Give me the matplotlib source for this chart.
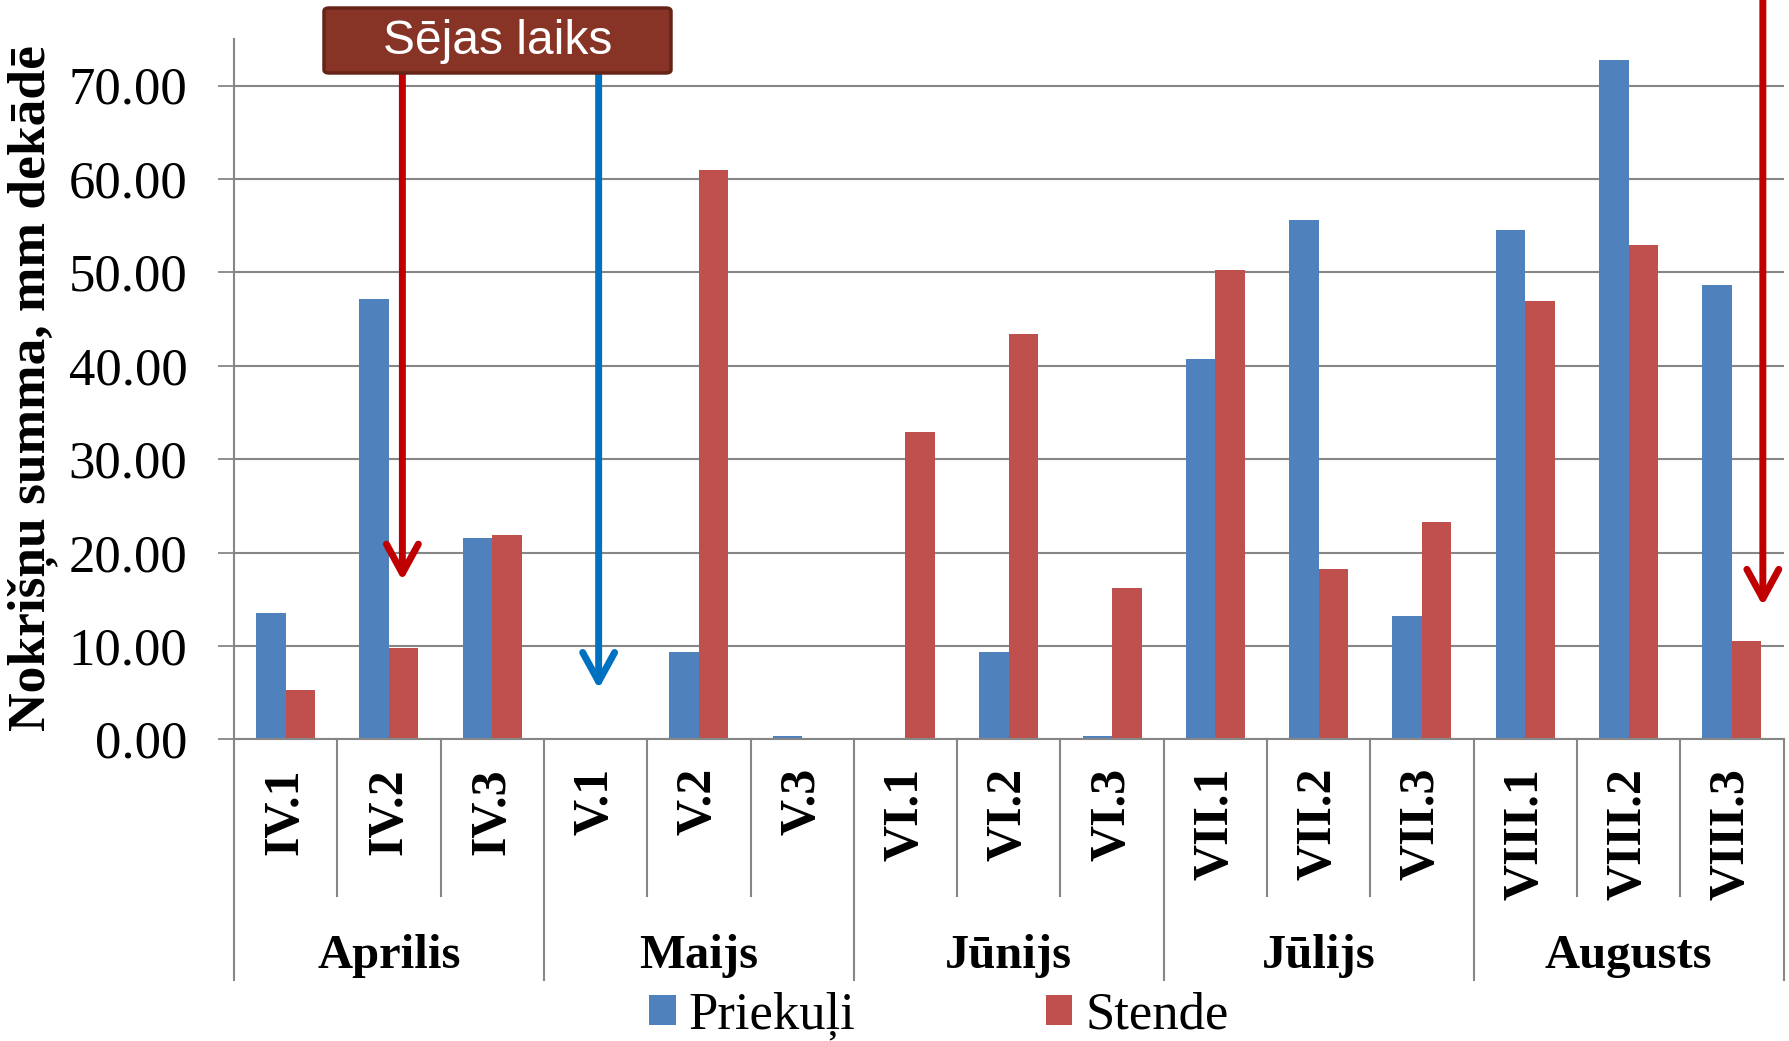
import numpy as np
import matplotlib
matplotlib.use("Agg")
import matplotlib.pyplot as plt
from matplotlib.patches import FancyArrowPatch, FancyBboxPatch, ArrowStyle
from matplotlib.transforms import blended_transform_factory

# data
decades = ["IV.1", "IV.2", "IV.3", "V.1", "V.2", "V.3", "VI.1", "VI.2", "VI.3",
           "VII.1", "VII.2", "VII.3", "VIII.1", "VIII.2", "VIII.3"]
months = ["Aprilis", "Maijs", "Jūnijs", "Jūlijs", "Augusts"]
priekuli = [13.5, 47.1, 21.6, 0.0, 9.3, 0.4, 0.0, 9.3, 0.4,
            40.7, 55.6, 13.2, 54.5, 72.7, 48.6]
stende = [5.3, 9.8, 21.9, 0.0, 61.0, 0.0, 32.9, 43.4, 16.2,
          50.2, 18.2, 23.3, 46.9, 52.9, 10.5]
# sowing time arrows: (x position in decade units, tip value, colour)
sowing_arrows = [(1.13, 17.0, "#C00000"), (3.03, 5.4, "#0070C0"), (14.30, 14.3, "#C00000")]

W, H = 1789, 1041
SERIF = ["Liberation Serif", "DejaVu Serif"]
SANS = ["Liberation Sans", "DejaVu Sans"]
GRAY = "#868686"
BLUE = "#4F81BD"
RED = "#C0504D"

fig = plt.figure(figsize=(W / 100, H / 100), dpi=100)
ax = fig.add_axes([234 / W, 1 - 739.3 / H, 1549.5 / W, 700.5 / H])

x = np.arange(len(decades))
w = 0.2857
b1 = ax.bar(x - w / 2, priekuli, w, color=BLUE, zorder=2)
b2 = ax.bar(x + w / 2, stende, w, color=RED, zorder=2)

ax.set_xlim(-0.5, len(decades) - 0.5)
ax.set_ylim(0, 75)
ax.set_yticks(np.arange(0, 80, 10))
ax.set_yticklabels([f"{v:.2f}" for v in np.arange(0, 80, 10)], family=SERIF, fontsize=38)
ax.set_xticks([])
ax.tick_params(axis="y", length=11.5, width=1.3, color=GRAY, pad=22)
ax.yaxis.grid(True, color=GRAY, lw=1.5)
ax.set_axisbelow(True)
for s in ["top", "right"]:
    ax.spines[s].set_visible(False)
for s in ["left", "bottom"]:
    ax.spines[s].set_color(GRAY)
    ax.spines[s].set_linewidth(1.5)

# multi-level category axis
tr = blended_transform_factory(ax.transData, fig.transFigure)
y_axis = 1 - 739.3 / H
for i in range(len(decades) + 1):
    y_end = 1 - (980 if i % 3 == 0 else 896) / H
    ax.plot([i - 0.5, i - 0.5], [y_axis, y_end], color=GRAY, lw=1.5,
            transform=tr, clip_on=False)
for i, lab in enumerate(decades):
    ax.text(i, 1 - 768 / H, lab, rotation=90, ha="center", va="top",
            family=SERIF, fontsize=36, fontweight="bold", transform=tr)
for j, m in enumerate(months):
    ax.text(3 * j + 1, 1 - 968 / H, m, ha="center", va="baseline",
            family=SERIF, fontsize=35, fontweight="bold", transform=tr)

fig.text(33 / W, 1 - 388 / H, "Nokrišņu summa, mm dekādē", rotation=90,
         ha="center", va="center", family=SERIF, fontsize=38.5, fontweight="bold")

# arrows for sowing time
for xa, tip, col in sowing_arrows:
    start = 80 if xa > 10 else 72
    arr = FancyArrowPatch((xa, start), (xa, tip),
                          arrowstyle=ArrowStyle("->", head_length=21, head_width=11.5),
                          mutation_scale=1, color=col, lw=5, clip_on=False,
                          zorder=4, shrinkA=0, shrinkB=0)
    ax.add_patch(arr)

box = FancyBboxPatch((324 / W, 1 - 73 / H), 347 / W, 65 / H,
                     boxstyle="round,pad=0,rounding_size=0.003",
                     transform=fig.transFigure, facecolor="#873426",
                     edgecolor="#662418", lw=2.5, zorder=10)
fig.patches.append(box)
fig.text(497.5 / W, 1 - 42 / H, "Sējas laiks", ha="center", va="center",
         family=SANS, fontsize=34.5, color="white", zorder=11)

fig.legend([b1, b2], ["Priekuļi", "Stende"], loc="center",
           bbox_to_anchor=(939 / W, 1 - 1016 / H), ncol=2, frameon=False,
           prop={"family": SERIF, "size": 38}, handlelength=0.5, handleheight=0.5,
           handletextpad=0.25, columnspacing=3.6, borderpad=0, borderaxespad=0)

fig.savefig("out.png", dpi=100)
